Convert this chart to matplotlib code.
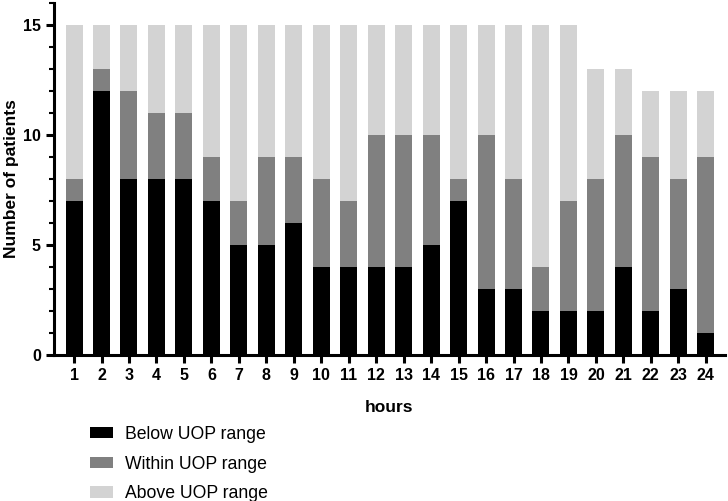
import matplotlib
matplotlib.use("Agg")
import matplotlib.pyplot as plt
import numpy as np
from matplotlib.patches import Patch
from matplotlib.ticker import MultipleLocator

hours = list(range(1, 25))
below = [7, 12, 8, 8, 8, 7, 5, 5, 6, 4, 4, 4, 4, 5, 7, 3, 3, 2, 2, 2, 4, 2, 3, 1]
within = [1, 1, 4, 3, 3, 2, 2, 4, 3, 4, 3, 6, 6, 5, 1, 7, 5, 2, 5, 6, 6, 7, 5, 8]
above = [7, 2, 3, 4, 4, 6, 8, 6, 6, 7, 8, 5, 5, 5, 7, 5, 7, 11, 8, 5, 3, 3, 4, 3]
series_names = ["Below UOP range", "Within UOP range", "Above UOP range"]
colors = ["#000000", "#808080", "#d3d3d3"]

plt.rcParams['font.family'] = ['Liberation Sans', 'DejaVu Sans']
fig = plt.figure(figsize=(7.28, 5.01), dpi=100)
ax = fig.add_axes([54/728, 146/501, 671/728, 352/501])

x = np.array(hours)
b = np.array(below); w = np.array(within); a = np.array(above)
ax.bar(x, b, width=0.62, color=colors[0])
ax.bar(x, w, width=0.62, bottom=b, color=colors[1])
ax.bar(x, a, width=0.62, bottom=b + w, color=colors[2])

ax.set_xlim(0.27, 24.7)
ax.set_ylim(0, 16)
ax.set_yticks([0, 5, 10, 15])
ax.yaxis.set_minor_locator(MultipleLocator(1))
ax.set_xticks(x)
ax.set_xticklabels([str(h) for h in hours])
for s in ['top', 'right']:
    ax.spines[s].set_visible(False)
for s in ['left', 'bottom']:
    ax.spines[s].set_linewidth(2.2)
ax.tick_params(axis='both', which='major', width=2.2, length=6, labelsize=11.5)
ax.tick_params(axis='y', which='minor', width=1.5, length=3.5)
for lab in ax.get_xticklabels() + ax.get_yticklabels():
    lab.set_fontweight('bold')
ax.set_xlabel("hours", fontsize=12.5, fontweight='bold', labelpad=12)
ax.set_ylabel("Number of patients", fontsize=12.5, fontweight='bold', labelpad=3)

handles = [Patch(facecolor=c, label=n) for c, n in zip(colors, series_names)]
fig.legend(handles=handles, loc='upper left', bbox_to_anchor=(74/728, 1 - 410/501),
           frameon=False, fontsize=12.7, handlelength=1.3, handleheight=0.6,
           labelspacing=0.72, handletextpad=0.7)

fig.savefig("out.png", dpi=100)
